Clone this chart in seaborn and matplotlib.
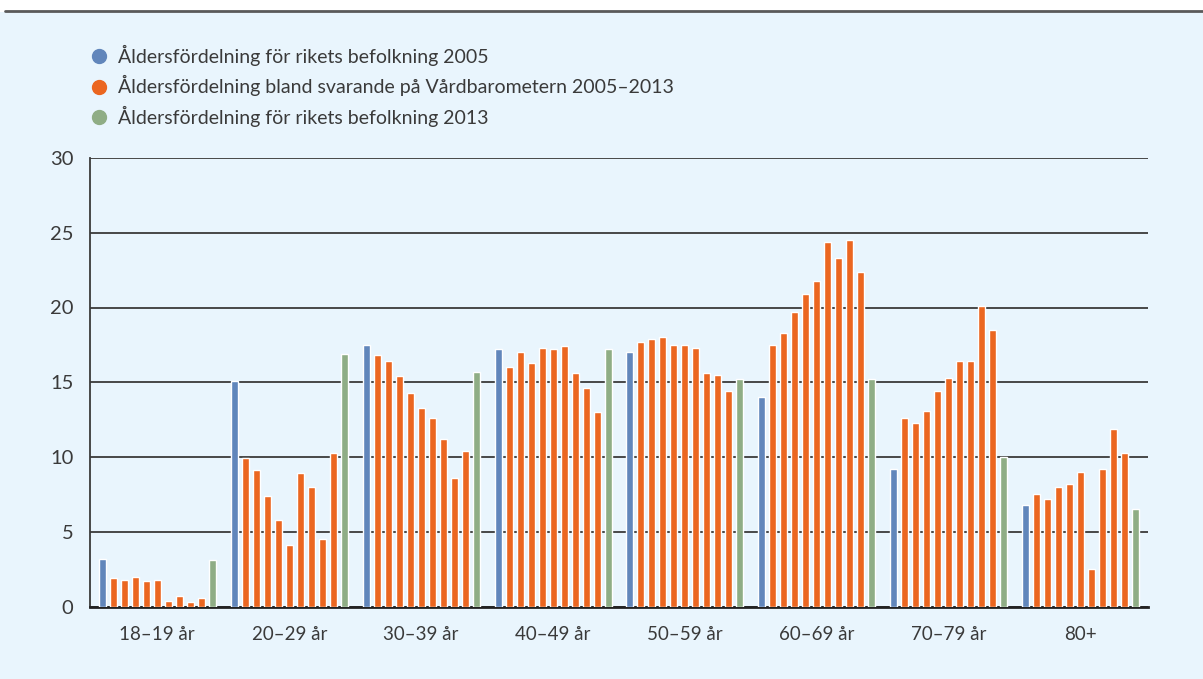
import matplotlib
matplotlib.use("Agg")
import matplotlib.pyplot as plt
from matplotlib.lines import Line2D
from matplotlib.patches import Rectangle
import seaborn as sns
import pandas as pd

# Data
age_groups = ["18–19 år", "20–29 år", "30–39 år", "40–49 år",
              "50–59 år", "60–69 år", "70–79 år", "80+"]

befolkning_2005 = [3.2, 15.1, 17.5, 17.2, 17.0, 14.0, 9.2, 6.8]
befolkning_2013 = [3.1, 16.9, 15.7, 17.2, 15.2, 15.2, 10.0, 6.5]

# nine yearly values (2005..2013) per age group
vardbarometern = [
    [1.9, 1.8, 2.0, 1.7, 1.8, 0.4, 0.7, 0.3, 0.6],
    [9.9, 9.1, 7.4, 5.8, 4.1, 8.9, 8.0, 4.5, 10.3],
    [16.8, 16.4, 15.4, 14.3, 13.3, 12.6, 11.2, 8.6, 10.4],
    [16.0, 17.0, 16.3, 17.3, 17.2, 17.4, 15.6, 14.6, 13.0],
    [17.7, 17.9, 18.0, 17.5, 17.5, 17.3, 15.6, 15.5, 14.4],
    [17.5, 18.3, 19.7, 20.9, 21.8, 24.4, 23.3, 24.5, 22.4],
    [12.6, 12.3, 13.1, 14.4, 15.3, 16.4, 16.4, 20.1, 18.5],
    [7.5, 7.2, 8.0, 8.2, 9.0, 2.5, 9.2, 11.9, 10.3],
]

legend_labels = [
    "Åldersfördelning för rikets befolkning 2005",
    "Åldersfördelning bland svarande på Vårdbarometern 2005–2013",
    "Åldersfördelning för rikets befolkning 2013",
]

blue, orange, green = "#6186bb", "#eb6620", "#8fad85"
bg = "#e9f5fd"
text_col = "#3a3a3a"

rows = []
for i, grp in enumerate(age_groups):
    rows.append((grp, "s00", befolkning_2005[i]))
    for j, v in enumerate(vardbarometern[i]):
        rows.append((grp, "s%02d" % (j + 1), v))
    rows.append((grp, "s10", befolkning_2013[i]))
df = pd.DataFrame(rows, columns=["grupp", "serie", "andel"])

slots = ["s%02d" % k for k in range(11)]
palette = {s: orange for s in slots}
palette["s00"] = blue
palette["s10"] = green

sns.set_style("white")
plt.rcParams["font.family"] = ["Lato", "DejaVu Sans"]

fig = plt.figure(figsize=(12.03, 6.79), dpi=100)
fig.patch.set_facecolor("white")
fig.patches.append(Rectangle((0, 0), 1, 1 - 12 / 679, transform=fig.transFigure,
                             facecolor=bg, edgecolor="none", zorder=-10))
fig.add_artist(Line2D([5 / 1203, 1], [1 - 10.5 / 679] * 2, transform=fig.transFigure,
                      color="#5a5a5a", lw=2))

ax = fig.add_axes([90 / 1203, 1 - 606.5 / 679, 1058 / 1203, 448.5 / 679])
ax.set_facecolor(bg)
sns.barplot(data=df, x="grupp", y="andel", hue="serie", hue_order=slots,
            palette=palette, width=0.917, gap=0.36, saturation=1,
            legend=False, ax=ax, zorder=3)

ax.set_xlim(-0.51, 7.51)
ax.set_ylim(0, 30)
ax.set_yticks(range(0, 31, 5))
ax.yaxis.grid(True, color="#3a3a3a", lw=1.3)
ax.set_axisbelow(True)
ax.set_xlabel("")
ax.set_ylabel("")
for s in ["top", "right"]:
    ax.spines[s].set_visible(False)
ax.spines["left"].set_color("#3a3a3a")
ax.spines["left"].set_linewidth(1.3)
ax.spines["bottom"].set_color("#222222")
ax.spines["bottom"].set_linewidth(2)
ax.tick_params(axis="y", length=0, labelsize=14.5, colors=text_col, pad=12)
ax.tick_params(axis="x", length=0, labelsize=13.5, colors=text_col, pad=14)

handles = [Line2D([], [], marker="o", ls="", color=c, markersize=10)
           for c in (blue, orange, green)]
fig.legend(handles, legend_labels, loc="upper left",
           bbox_to_anchor=(72 / 1203, 1 - 27 / 679), frameon=False,
           fontsize=14, labelcolor=text_col,
           handletextpad=0.45, labelspacing=0.5, handlelength=1.0)

fig.savefig("out.png", dpi=100, facecolor=fig.get_facecolor())
